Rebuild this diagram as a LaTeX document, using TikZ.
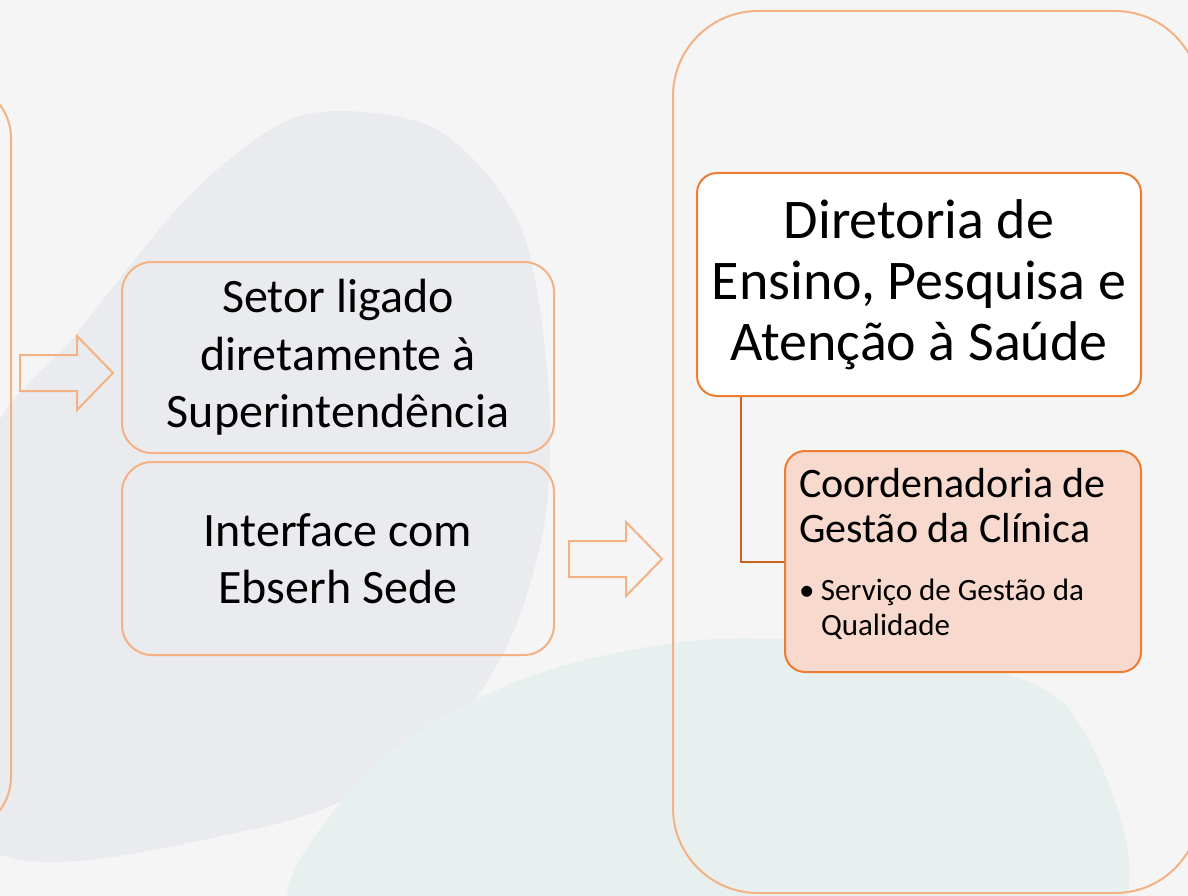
\documentclass[tikz,border=0pt]{standalone}
\usepackage{fontspec}
\setmainfont{Carlito}
\definecolor{lightorange}{HTML}{F4B183}
\definecolor{deeporange}{HTML}{ED7D31}
\definecolor{linkbrown}{HTML}{C8641F}
\definecolor{salmon}{HTML}{F8D9CD}
\definecolor{paper}{HTML}{F5F5F5}
\definecolor{greyblob}{HTML}{EAEBEE}
\definecolor{tealblob}{HTML}{E8F0EF}
\tikzset{
  panel/.style={draw=lightorange, line width=2pt, inner sep=0pt},
  midbox/.style={draw=lightorange, line width=2pt, rounded corners=30pt,
    minimum width=432pt, align=center, font=\fontsize{48}{57.5}\selectfont},
  hollowarrow/.style={draw=lightorange, line width=2pt, line join=miter},
  link/.style={draw=linkbrown, line width=2pt}
}
\newcommand{\blockarrow}[1]{\draw[hollowarrow] #1 ++(0,-18) -- ++(57,0) -- ++(0,-19)
  -- ++(36,37) -- ++(-36,37) -- ++(0,-19) -- ++(-57,0) -- cycle;}
\begin{document}
\begin{tikzpicture}[x=1pt, y=-1pt]
    \useasboundingbox (0,0) rectangle (1188,896);
    \clip (0,0) rectangle (1188,896);
    % background and blobs
    \fill[paper] (0,0) rectangle (1188,896);
    \fill[greyblob] plot[smooth cycle] coordinates {(-20,470) (80,330) (195,190) (303,115)
      (434,128) (520,225) (548,380) (545,520) (505,650) (420,760) (250,830) (-20,840)};
    \fill[tealblob] plot[smooth cycle] coordinates {(300,920) (370,770) (520,680) (700,640)
      (900,650) (1070,710) (1110,920) (700,940)};
    % panels
    \node[panel, rounded corners=55pt, minimum width=612pt, minimum height=749pt]
      (left) at (-295,457.5) {};
    \node[panel, rounded corners=85pt, minimum width=527pt, minimum height=882pt]
      (right) at (936.5,452) {};
    % middle column
    \node[midbox, minimum height=191pt] (setor) at (338,357.5)
      {Setor ligado\\diretamente à\\Superintendência};
    \node[midbox, minimum height=193pt] (ebserh) at (338,558.5)
      {Interface com\\Ebserh Sede};
    \blockarrow{(20,373)}
    \blockarrow{(569,559)}
    % right column
    \node[draw=deeporange, fill=white, line width=2pt, rounded corners=20pt,
      minimum width=444pt, minimum height=223pt, align=center,
      font=\fontsize{56}{61}\selectfont] (dir) at (919,284.5)
      {Diretoria de\\Ensino, Pesquisa e\\Atenção à Saúde};
    \node[draw=deeporange, fill=salmon, line width=2pt, rounded corners=20pt,
      minimum height=221pt, inner xsep=14pt, text width=328pt, align=flush left]
      (coord) at (963,561.5)
      {{\fontsize{42}{45}\selectfont Coordenadoria de\\Gestão da Clínica\par}
       \vspace{23pt}
       {\fontsize{31}{35}\selectfont \makebox[22pt][l]{\textbullet}Serviço de Gestão da\\
       \hspace*{22pt}Qualidade\par}
       \kern15pt};
    \draw[link] ([xshift=-178pt]dir.south) |- (coord.west);
\end{tikzpicture}
\end{document}
